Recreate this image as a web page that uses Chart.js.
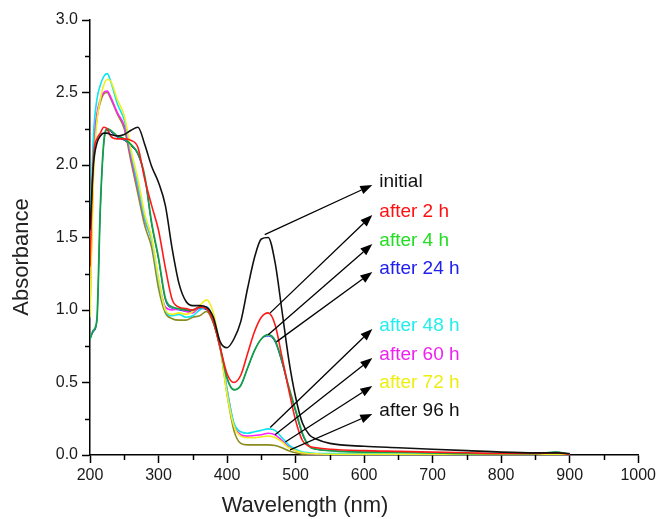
<!DOCTYPE html>
<html>
<head>
<meta charset="utf-8">
<script src="https://cdn.jsdelivr.net/npm/chart.js@4.4.0/dist/chart.umd.min.js"></script>
<style>
  body { margin: 0; background: #fff; }
  #wrap { width: 659px; height: 519px; }
</style>
</head>
<body>
<div id="wrap"><canvas id="c"></canvas></div>
<script>
// wavelength grid (nm)
const wavelength = [200,205,210,215,220,225,230,240,250,260,270,280,290,300,310,320,330,340,350,360,370,380,390,400,410,420,430,440,450,460,470,480,490,500,510,520,530,550,600,650,700,750,800,850,880,900];

const absInitial = [1.55,2.0,2.15,2.2,2.22,2.22,2.21,2.2,2.21,2.24,2.26,2.14,1.99,1.88,1.72,1.42,1.18,1.06,1.03,1.03,1.02,0.95,0.78,0.74,0.80,0.92,1.15,1.36,1.49,1.5,1.33,1.0,0.66,0.4,0.22,0.14,0.11,0.08,0.06,0.05,0.04,0.03,0.02,0.015,0.015,0.01];
const abs2h = [1.3,2.05,2.18,2.22,2.26,2.25,2.2,2.18,2.18,2.17,2.12,1.9,1.72,1.55,1.29,1.07,1.02,1.01,1.0,1.02,1.01,0.92,0.74,0.56,0.5,0.55,0.7,0.85,0.95,0.98,0.9,0.68,0.45,0.24,0.1,0.06,0.05,0.04,0.03,0.025,0.02,0.015,0.01,0.01,0.015,0.005];
const abs4h = [0.8,0.86,0.93,1.7,2.15,2.25,2.24,2.2,2.18,2.14,2.08,1.92,1.6,1.36,1.08,1.02,1.01,1.0,1.0,1.02,1.01,0.92,0.74,0.53,0.45,0.48,0.6,0.72,0.8,0.83,0.79,0.65,0.47,0.31,0.15,0.06,0.04,0.03,0.02,0.02,0.015,0.01,0.01,0.01,0.02,0.005];
const abs24h = [0.8,0.85,0.92,1.68,2.14,2.24,2.23,2.19,2.17,2.13,2.07,1.91,1.59,1.35,1.07,1.01,1.0,0.99,0.99,1.01,1.0,0.91,0.74,0.53,0.45,0.48,0.6,0.72,0.8,0.82,0.78,0.64,0.46,0.3,0.14,0.06,0.04,0.03,0.02,0.02,0.015,0.01,0.01,0.01,0.02,0.005];
const abs48h = [1.5,2.2,2.45,2.55,2.61,2.63,2.58,2.42,2.31,2.08,1.86,1.63,1.48,1.2,1.0,0.96,0.97,0.95,0.96,1.0,1.02,0.94,0.74,0.45,0.22,0.16,0.15,0.16,0.17,0.18,0.17,0.12,0.07,0.04,0.02,0.015,0.01,0.01,0.01,0.01,0.01,0.01,0.005,0.005,0.01,0];
const abs60h = [1.2,2.1,2.35,2.45,2.5,2.51,2.47,2.36,2.27,2.05,1.84,1.62,1.48,1.2,1.02,1.0,1.01,0.99,0.98,1.02,1.02,0.93,0.74,0.45,0.21,0.14,0.13,0.135,0.14,0.15,0.14,0.1,0.06,0.03,0.015,0.01,0.008,0.006,0.005,0.005,0.005,0.004,0.003,0.003,0.005,0];
const abs72h = [0.95,1.9,2.3,2.45,2.55,2.59,2.58,2.45,2.34,2.1,1.9,1.66,1.5,1.22,1.0,0.97,0.98,0.97,0.99,1.03,1.07,0.98,0.74,0.42,0.2,0.13,0.12,0.12,0.125,0.13,0.12,0.09,0.05,0.03,0.015,0.01,0.008,0.005,0.005,0.005,0.004,0.004,0.003,0.003,0.004,0];
const abs96h = [1.0,2.0,2.32,2.43,2.49,2.5,2.46,2.35,2.25,2.02,1.8,1.58,1.43,1.15,0.98,0.94,0.93,0.93,0.95,0.96,0.99,0.91,0.74,0.42,0.17,0.08,0.07,0.07,0.07,0.07,0.065,0.05,0.03,0.015,0.006,0.003,0.002,0.002,0.002,0.002,0.002,0.002,0.002,0.002,0.004,0];

// annotation labels and arrows (data units: nm, absorbance)
const labels = ['initial','after 2 h','after 4 h','after 24 h','after 48 h','after 60 h','after 72 h','after 96 h'];
const arrowFromX = [455,463,460,472,463,470,485,492];
const arrowFromY = [1.52,0.98,0.83,0.78,0.19,0.14,0.09,0.035];
const arrowToX = [612,612,612,612,612,612,612,612];
const arrowToY = [1.862,1.655,1.455,1.262,0.869,0.669,0.476,0.283];

const labelColors = ['#111','#ff1010','#22dd22','#2020ee','#22eeee','#ee22ee','#eeee10','#111'];
const lineColors = ['#111','#ff1a1a','#12a046','#2020ee','#10e4ee','#ff20ff','#f0f020','#8b8b1e'];
const lineWidths = [1.6,1.6,1.8,1,1.6,1.6,1.6,1.6];
const series = [absInitial, abs2h, abs4h, abs24h, abs48h, abs60h, abs72h, abs96h];
const drawOrder = [0, 3, 4, 9, 6, 7, 5, 8];

const FONT = "'Liberation Sans', Arial, sans-serif";

const datasets = series.map((vals, i) => ({
  label: labels[i],
  data: wavelength.map((w, k) => ({ x: w, y: vals[k] })),
  borderColor: lineColors[i],
  borderWidth: lineWidths[i],
  pointRadius: 0,
  cubicInterpolationMode: 'monotone',
  order: drawOrder[i],
  fill: false
}));

const extras = {
  id: 'extras',
  afterDraw(chart) {
    const ctx = chart.ctx;
    const xs = chart.scales.x, ys = chart.scales.y;
    const area = chart.chartArea;
    ctx.save();
    // minor ticks
    ctx.strokeStyle = '#000';
    ctx.lineWidth = 1.5;
    ctx.beginPath();
    for (let v = 250; v < 1000; v += 100) {
      const px = Math.round(xs.getPixelForValue(v)) + 0.5;
      ctx.moveTo(px, area.bottom);
      ctx.lineTo(px, area.bottom + 5);
    }
    for (let v = 0.25; v < 3; v += 0.5) {
      const py = Math.round(ys.getPixelForValue(v)) + 0.5;
      ctx.moveTo(area.left, py);
      ctx.lineTo(area.left - 5, py);
    }
    ctx.stroke();

    // arrows and labels
    ctx.lineWidth = 1.3;
    ctx.font = '19px ' + FONT;
    ctx.textBaseline = 'middle';
    labels.forEach((txt, i) => {
      const x0 = xs.getPixelForValue(arrowFromX[i]);
      const y0 = ys.getPixelForValue(arrowFromY[i]);
      const x1 = xs.getPixelForValue(arrowToX[i]);
      const y1 = ys.getPixelForValue(arrowToY[i]);
      const ang = Math.atan2(y1 - y0, x1 - x0);
      const len = 12, hw = 4.5;
      const bx = x1 - len * Math.cos(ang), by = y1 - len * Math.sin(ang);
      ctx.strokeStyle = '#000';
      ctx.beginPath();
      ctx.moveTo(x0, y0);
      ctx.lineTo(bx, by);
      ctx.stroke();
      ctx.fillStyle = '#000';
      ctx.beginPath();
      ctx.moveTo(x1, y1);
      ctx.lineTo(bx + hw * Math.sin(ang), by - hw * Math.cos(ang));
      ctx.lineTo(bx - hw * Math.sin(ang), by + hw * Math.cos(ang));
      ctx.closePath();
      ctx.fill();
      ctx.fillStyle = labelColors[i];
      ctx.fillText(txt, x1 + 7, y1 - 3);
    });

    // axis titles
    ctx.fillStyle = '#222';
    ctx.font = '22px ' + FONT;
    ctx.textAlign = 'center';
    ctx.fillText('Wavelength (nm)', 305, 506);
    ctx.translate(22, 257);
    ctx.rotate(-Math.PI / 2);
    ctx.fillText('Absorbance', 0, 0);
    ctx.restore();
  }
};

new Chart(document.getElementById('c'), {
  type: 'line',
  data: { datasets },
  options: {
    responsive: true,
    maintainAspectRatio: false,
    animation: false,
    layout: { padding: { top: 20, right: 20, left: 0, bottom: 0 } },
    plugins: { legend: { display: false }, tooltip: { enabled: false } },
    scales: {
      x: {
        type: 'linear', min: 200, max: 1000,
        ticks: { stepSize: 100, color: '#1a1a1a', font: { family: FONT, size: 16 }, padding: 3, maxRotation: 0, autoSkip: false, callback: v => String(v) },
        grid: { drawOnChartArea: false, tickLength: 8, tickColor: '#000', tickWidth: 1.5 },
        border: { color: '#000', width: 1.5 },
        afterFit: s => { s.height = 64; }
      },
      y: {
        type: 'linear', min: 0, max: 3,
        ticks: { stepSize: 0.5, color: '#1a1a1a', font: { family: FONT, size: 16 }, padding: 4, callback: v => v.toFixed(1) },
        grid: { drawOnChartArea: false, tickLength: 8, tickColor: '#000', tickWidth: 1.5 },
        border: { color: '#000', width: 1.5 },
        afterFit: s => { s.width = 90; }
      }
    }
  },
  plugins: [extras]
});
</script>
</body>
</html>
